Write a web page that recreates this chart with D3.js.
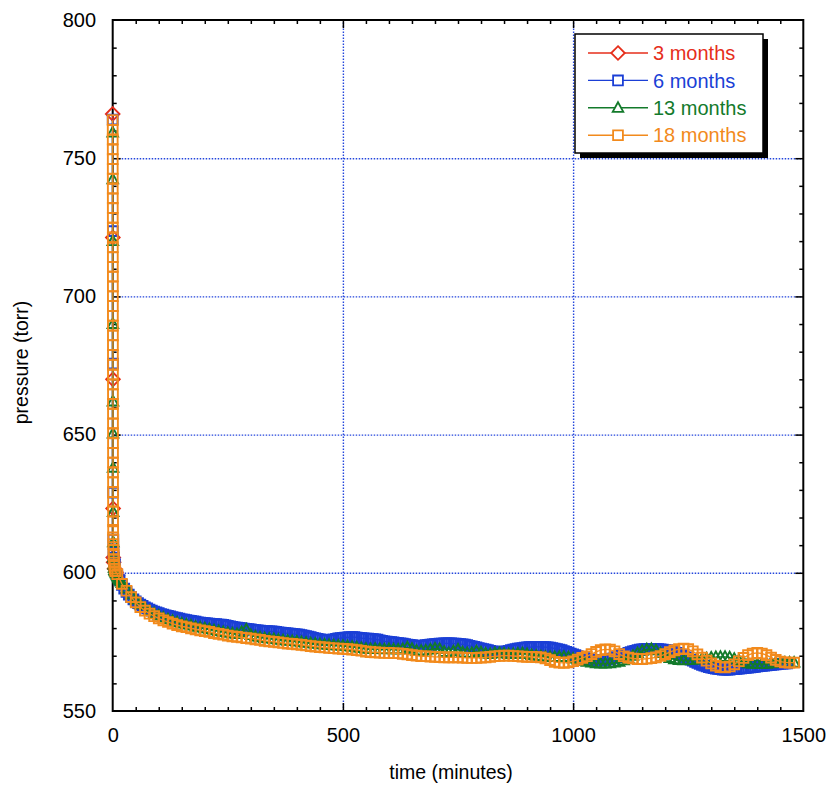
<!DOCTYPE html>
<html><head><meta charset="utf-8">
<script src="https://cdn.jsdelivr.net/npm/d3@7"></script>
<style>body{margin:0;background:#fff}svg{display:block}</style>
</head><body>
<svg id="c" width="827" height="786"></svg>
<script>
// ---------------- DATA ----------------
const seriesNames = ["3 months", "6 months", "13 months", "18 months"];
const seriesColors = ["#e62e1b", "#1b3fd6", "#137a2b", "#f28a1c"];
const xTickValues = [0, 500, 1000, 1500];
const yTickValues = [550, 600, 650, 700, 750, 800];

// 3 months (diamonds)
const t3 = [0, 0.3, 0.6, 0.9, 1.3, 2.0, 4.0, 7.0, 10.0];
const p3 = [766.0, 721.3, 670.0, 623.3, 605.5, 603.8, 601.5, 600.2, 599.0];

// 6 months (squares)
const t6 = [0, 0.35, 0.7, 1.05, 1.4, 1.8, 2.3, 3.0, 4.0,
  5,10,15,20,25,30,35,40,45,50,55,60,65,70,75,80,85,90,95,100,
  105,110,115,120,125,130,135,140,145,150,155,160,165,170,175,180,185,190,195,200,
  205,210,215,220,225,230,235,240,245,250,255,260,265,270,275,280,285,290,295,300,
  305,310,315,320,325,330,335,340,345,350,355,360,365,370,375,380,385,390,395,400,
  405,410,415,420,425,430,435,440,445,450,455,460,465,470,475,480,485,490,495,500,
  505,510,515,520,525,530,535,540,545,550,555,560,565,570,575,580,585,590,595,600,
  605,610,615,620,625,630,635,640,645,650,655,660,665,670,675,680,685,690,695,700,
  705,710,715,720,725,730,735,740,745,750,755,760,765,770,775,780,785,790,795,800,
  805,810,815,820,825,830,835,840,845,850,855,860,865,870,875,880,885,890,895,900,
  905,910,915,920,925,930,935,940,945,950,955,960,965,970,975,980,985,990,995,1000,
  1005,1010,1015,1020,1025,1030,1035,1040,1045,1050,1055,1060,1065,1070,1075,1080,1085,1090,1095,1100,
  1105,1110,1115,1120,1125,1130,1135,1140,1145,1150,1155,1160,1165,1170,1175,1180,1185,1190,1195,1200,
  1205,1210,1215,1220,1225,1230,1235,1240,1245,1250,1255,1260,1265,1270,1275,1280,1285,1290,1295,1300,
  1305,1310,1315,1320,1325,1330,1335,1340,1345,1350,1355,1360,1365,1370,1375,1380,1385,1390,1395,1400,
  1405,1410,1415,1420,1425,1430,1435,1440,1445,1450,1455,1460,1465];
const p6 = [764.0, 723.6, 675.7, 629.0, 612.0, 607.5, 605.5, 604.3, 603.6,
  603.0,599.2,597.4,595.6,594.3,593.1,592.1,591.2,590.4,589.7,589.0,588.5,588.0,587.5,587.1,586.7,586.3,586.0,585.7,585.4,
  585.1,584.9,584.6,584.4,584.2,584.0,583.8,583.6,583.4,583.2,583.1,582.9,582.7,582.6,582.4,582.3,582.1,582.0,581.9,581.8,
  581.7,581.6,581.5,581.4,581.4,581.3,581.3,581.2,581.0,580.8,580.6,580.4,580.3,580.2,580.1,580.0,579.8,579.7,579.6,579.5,
  579.4,579.3,579.2,579.1,579.0,578.9,578.9,578.8,578.8,578.7,578.6,578.5,578.4,578.3,578.2,578.1,578.0,577.9,577.8,577.7,
  577.6,577.5,577.3,577.1,576.9,576.7,576.5,576.3,576.1,575.9,575.8,575.7,575.6,575.6,575.7,575.9,576.1,576.3,576.4,576.5,
  576.6,576.6,576.7,576.7,576.7,576.6,576.5,576.4,576.3,576.2,576.2,576.1,576.0,575.9,575.8,575.6,575.4,575.2,575.1,575.0,
  574.9,574.8,574.7,574.6,574.5,574.4,574.2,574.0,573.9,573.8,573.7,573.6,573.6,573.6,573.7,573.8,573.9,574.0,574.1,574.2,
  574.3,574.4,574.4,574.5,574.5,574.5,574.5,574.4,574.4,574.3,574.2,574.1,574.0,573.8,573.6,573.4,573.2,573.0,572.8,572.6,
  572.4,572.2,572.0,571.8,571.6,571.5,571.4,571.4,571.4,571.5,571.6,571.8,572.0,572.2,572.4,572.6,572.7,572.8,572.9,573.0,
  573.1,573.1,573.2,573.2,573.2,573.2,573.1,573.1,573.0,572.9,572.8,572.6,572.4,572.2,572.0,571.7,571.4,571.1,570.8,570.5,
  570.2,569.9,569.6,569.3,569.1,568.9,568.7,568.5,568.4,568.3,568.3,568.3,568.4,568.5,568.6,568.8,569.0,569.2,569.5,569.8,
  570.1,570.4,570.7,571.0,571.3,571.6,571.8,572.0,572.2,572.3,572.4,572.5,572.5,572.5,572.5,572.4,572.4,572.3,572.2,572.1,
  572.0,571.8,571.6,571.3,571.0,570.6,570.2,569.8,569.4,569.0,568.6,568.2,567.8,567.4,567.0,566.7,566.4,566.1,565.9,565.7,
  565.5,565.3,565.2,565.1,565.0,565.0,565.0,565.0,565.1,565.1,565.2,565.3,565.4,565.5,565.6,565.7,565.8,565.9,566.0,566.1,
  566.2,566.3,566.4,566.5,566.6,566.7,566.8,566.9,567.0,567.1,567.1,567.2,567.2];

// 13 months (triangles)
const t13 = [0,0.1,0.25,0.4,0.55,0.7,0.85,1.0,1.3,1.7,2.2,3,4,5,6,7,8,9,10,11,12,13,14,15,16,18,20,
  30,40,50,60,70,80,90,100,
  110,120,130,140,150,160,170,180,190,200,
  210,220,230,240,250,260,270,280,290,300,
  310,320,330,340,350,360,370,380,390,400,
  410,420,430,440,450,460,470,480,490,500,
  510,520,530,540,550,560,570,580,590,600,
  610,620,630,640,650,660,670,680,690,700,
  710,720,730,740,750,760,770,780,790,800,
  810,820,830,840,850,860,870,880,890,900,
  910,920,930,940,950,960,970,980,990,1000,
  1010,1020,1030,1040,1050,1060,1070,1080,1090,1100,
  1110,1120,1130,1140,1150,1160,1170,1180,1190,1200,
  1210,1220,1230,1240,1250,1260,1270,1280,1290,1300,
  1310,1320,1330,1340,1350,1360,1370,1380,1390,1400,
  1410,1420,1430,1440,1450,1460,1470,1480];
const p13 = [759.3,742.4,720.0,690.0,662.0,650.4,638.0,622.0,611.0,605.5,603.0,601.8,601.0,600.6,600.3,600.0,599.7,599.4,599.1,598.8,598.5,598.2,597.9,597.6,597.3,596.8,596.3,
  594.3,592.2,590.3,588.6,587.3,586.2,585.3,584.5,
  583.8,583.2,582.6,582.1,581.6,581.3,580.9,580.5,580.2,579.9,
  579.6,579.2,578.9,578.6,578.3,578.0,577.8,578.6,579.5,577.5,
  576.9,576.7,576.4,576.2,576.0,575.8,575.6,575.4,575.3,575.1,
  574.9,574.7,574.5,574.3,574.1,574.0,573.9,573.8,573.7,573.6,
  573.4,573.2,573.0,572.8,572.5,572.4,572.5,572.4,572.3,572.4,
  572.3,572.2,572.4,573.0,572.5,571.8,571.8,571.9,572.2,572.6,
  572.4,571.4,571.0,571.6,572.2,571.2,571.0,571.0,571.6,571.2,
  570.8,570.6,571.0,571.0,570.8,570.6,570.6,570.8,570.9,570.6,
  570.2,570.0,569.8,569.6,569.5,569.5,569.6,569.6,569.4,569.0,
  568.6,568.2,567.8,567.5,567.3,567.2,567.2,567.3,567.5,567.8,
  568.3,569.0,570.0,571.0,571.8,572.3,572.4,572.0,571.0,570.0,
  569.2,568.7,568.4,568.3,568.4,568.5,568.7,568.9,569.1,569.3,
  569.5,569.6,569.6,569.4,568.9,568.3,567.7,567.3,567.1,567.0,
  567.0,567.1,567.3,567.4,567.5,567.5,567.5,567.5];

// 18 months (squares)
const t18 = [0,0.02,0.04,0.06,0.08,0.10,0.12,0.14,0.16,0.18,0.20,0.22,0.24,0.26,0.28,0.30,0.32,0.34,0.36,0.38,
  0.40,0.42,0.44,0.46,0.48,0.50,0.52,0.54,0.56,0.58,0.60,0.62,0.64,0.66,0.68,0.70,0.72,0.74,0.76,0.78,0.80,
  0.85,0.95,1.1,1.3,1.6,2.0,2.5,3.1,3.8,4.6,5.5,
  10,20,30,40,50,60,70,80,90,100,
  110,120,130,140,150,160,170,180,190,200,
  210,220,230,240,250,260,270,280,290,300,
  310,320,330,340,350,360,370,380,390,400,
  410,420,430,440,450,460,470,480,490,500,
  510,520,530,540,550,560,570,580,590,600,
  610,620,630,640,650,660,670,680,690,700,
  710,720,730,740,750,760,770,780,790,800,
  810,820,830,840,850,860,870,880,890,900,
  910,920,930,940,950,960,970,980,990,1000,
  1010,1020,1030,1040,1050,1060,1070,1080,1090,1100,
  1110,1120,1130,1140,1150,1160,1170,1180,1190,1200,
  1210,1220,1230,1240,1250,1260,1270,1280,1290,1300,
  1310,1320,1330,1340,1350,1360,1370,1380,1390,1400,
  1410,1420,1430,1440,1450,1460,1470,1480];
const p18 = [763.8,760.3,756.8,753.2,749.7,746.1,742.6,739.0,735.5,732.0,728.4,724.9,721.3,717.8,714.2,710.7,707.2,703.6,700.1,696.5,
  693.0,689.4,685.9,682.4,678.8,675.3,671.7,668.2,664.6,661.1,657.6,654.0,650.5,646.9,643.4,639.9,636.3,632.8,629.2,625.7,622.2,
  618.6,615.5,612.8,610.4,608.3,606.5,605.0,603.7,602.5,601.5,600.6,
  599.5,596.0,593.5,591.2,589.3,587.6,586.3,585.2,584.3,583.5,
  582.8,582.2,581.6,581.1,580.6,580.3,579.9,579.5,579.2,578.9,
  578.6,578.2,577.9,577.6,577.3,577.0,576.8,576.6,576.4,576.2,
  575.9,575.7,575.4,575.2,575.0,574.8,574.6,574.4,574.3,574.1,
  573.9,573.7,573.5,573.3,573.1,573.0,572.8,572.7,572.6,572.5,
  572.4,572.2,572.0,571.8,571.5,571.3,571.2,571.1,571.0,571.0,
  570.9,570.9,570.7,570.5,570.2,570.0,569.8,569.8,569.7,569.6,
  569.5,569.4,569.4,569.4,569.4,569.3,569.2,569.2,569.2,569.3,
  569.4,569.6,569.8,569.9,570.0,570.0,569.9,569.8,569.7,569.6,
  569.6,569.5,569.4,569.0,568.4,567.8,567.5,567.4,567.6,568.0,
  568.6,569.2,569.8,570.6,571.4,572.0,572.3,572.2,571.6,570.6,
  569.8,569.3,569.0,568.8,568.8,568.9,569.1,569.4,569.9,570.6,
  571.3,571.9,572.4,572.6,572.4,571.6,570.5,569.3,568.2,567.2,
  566.4,565.9,565.8,566.1,566.9,568.0,569.2,570.2,570.8,571.0,
  570.8,570.2,569.3,568.5,567.9,567.6,567.5,567.5];

// ---------------- CHART ----------------
const svg = d3.select("#c");
const FONT = "'Liberation Sans', Arial, Helvetica, sans-serif";
const L = 112.7, R = 803.3, T = 20, B = 711;
const x = d3.scaleLinear().domain([0, 1500]).range([L, R]);
const y = d3.scaleLinear().domain([550, 800]).range([B, T]);

// gridlines (dotted blue)
const gridColor = "#2446dc";
const gx = svg.append("g").attr("transform", `translate(0,${B})`)
  .call(d3.axisBottom(x).tickValues([500, 1000]).tickSize(-(B - T)).tickFormat(""));
const gy = svg.append("g").attr("transform", `translate(${L},0)`)
  .call(d3.axisLeft(y).tickValues([600, 650, 700, 750]).tickSize(-(R - L)).tickFormat(""));
[gx, gy].forEach(g => {
  g.select(".domain").remove();
  g.selectAll("line").attr("stroke", gridColor).attr("stroke-width", 1.4).attr("stroke-dasharray", "1.5,1.5");
});

// minor/major ticks on all four sides
const minorX = d3.range(50, 1500, 50).filter(v => v % 500 !== 0);
const minorY = d3.range(560, 800, 10).filter(v => v % 50 !== 0);
function tickGroup(axis, tr) {
  const g = svg.append("g").attr("transform", tr).call(axis);
  g.select(".domain").remove();
  g.selectAll("line").attr("stroke", "#000").attr("stroke-width", 1.5);
  return g;
}
tickGroup(d3.axisBottom(x).tickValues(minorX).tickSize(-4).tickFormat(""), `translate(0,${B})`);
tickGroup(d3.axisBottom(x).tickValues([500, 1000]).tickSize(-8).tickFormat(""), `translate(0,${B})`);
tickGroup(d3.axisTop(x).tickValues(minorX).tickSize(-4).tickFormat(""), `translate(0,${T})`);
tickGroup(d3.axisTop(x).tickValues([500, 1000]).tickSize(-8).tickFormat(""), `translate(0,${T})`);
tickGroup(d3.axisLeft(y).tickValues(minorY).tickSize(-4).tickFormat(""), `translate(${L},0)`);
tickGroup(d3.axisLeft(y).tickValues([600, 650, 700, 750]).tickSize(-8).tickFormat(""), `translate(${L},0)`);
tickGroup(d3.axisRight(y).tickValues(minorY).tickSize(-4).tickFormat(""), `translate(${R},0)`);
tickGroup(d3.axisRight(y).tickValues([600, 650, 700, 750]).tickSize(-8).tickFormat(""), `translate(${R},0)`);

// frame
svg.append("rect").attr("x", L).attr("y", T).attr("width", R - L).attr("height", B - T)
  .attr("fill", "none").attr("stroke", "#000").attr("stroke-width", 2);

// tick labels
const xl = svg.append("g").attr("transform", `translate(0,${B})`)
  .call(d3.axisBottom(x).tickValues(xTickValues).tickSize(0).tickPadding(16.8).tickFormat(d3.format("d")));
const yl = svg.append("g").attr("transform", `translate(${L},0)`)
  .call(d3.axisLeft(y).tickValues(yTickValues).tickSize(0).tickPadding(16.7).tickFormat(d3.format("d")));
[xl, yl].forEach(g => {
  g.select(".domain").remove();
  g.selectAll("text").attr("font-family", FONT).attr("font-size", 20).attr("fill", "#000");
});
yl.selectAll("text").attr("dy", "0.30em");

// axis titles
svg.append("text").attr("x", 451).attr("y", 779).attr("text-anchor", "middle")
  .attr("font-family", FONT).attr("font-size", 19.5).text("time (minutes)");
svg.append("text").attr("transform", `translate(28,362.5) rotate(-90)`).attr("text-anchor", "middle")
  .attr("font-family", FONT).attr("font-size", 19.5).text("pressure (torr)");

// markers
const shapes = {
  diamond: "M0,-6.8L6.8,0L0,6.8L-6.8,0Z",
  square: "M-4.9,-4.9H4.9V4.9H-4.9Z",
  triangle: "M0,-5.6L5.3,4L-5.3,4Z"
};
const series = [
  { t: t3, p: p3, shape: "diamond" },
  { t: t6, p: p6, shape: "square" },
  { t: t13, p: p13, shape: "triangle" },
  { t: t18, p: p18, shape: "square" }
].map((s, i) => ({ ...s, name: seriesNames[i], color: seriesColors[i],
  pts: s.t.map((tv, k) => [tv, s.p[k]]) }));

const line = d3.line().x(d => x(d[0])).y(d => y(d[1]));
series.forEach(s => {
  const g = svg.append("g");
  g.append("path").datum(s.pts).attr("d", line).attr("fill", "none")
    .attr("stroke", s.color).attr("stroke-width", 1.3);
  g.selectAll("path.m").data(s.pts).enter().append("path").attr("class", "m")
    .attr("d", shapes[s.shape])
    .attr("transform", d => `translate(${x(d[0])},${y(d[1])})`)
    .attr("fill", "none").attr("stroke", s.color).attr("stroke-width", 1.9);
});

// legend
const lg = svg.append("g");
const LX = 575, LY = 34, LW = 188, LH = 119;
lg.append("rect").attr("x", LX + 5).attr("y", LY + 5).attr("width", LW).attr("height", LH).attr("fill", "#000");
lg.append("rect").attr("x", LX).attr("y", LY).attr("width", LW).attr("height", LH)
  .attr("fill", "#fff").attr("stroke", "#000").attr("stroke-width", 1.5);
series.forEach((s, i) => {
  const yy = 53 + i * 27.4;
  lg.append("line").attr("x1", 588).attr("x2", 648).attr("y1", yy).attr("y2", yy)
    .attr("stroke", s.color).attr("stroke-width", 1.4);
  lg.append("path").attr("d", shapes[s.shape]).attr("transform", `translate(618,${yy})`)
    .attr("fill", "#fff").attr("stroke", s.color).attr("stroke-width", 1.8);
  lg.append("text").attr("x", 653).attr("y", yy).attr("dy", "0.36em")
    .attr("font-family", FONT).attr("font-size", 20).attr("fill", s.color).text(s.name);
});
</script>
</body></html>
